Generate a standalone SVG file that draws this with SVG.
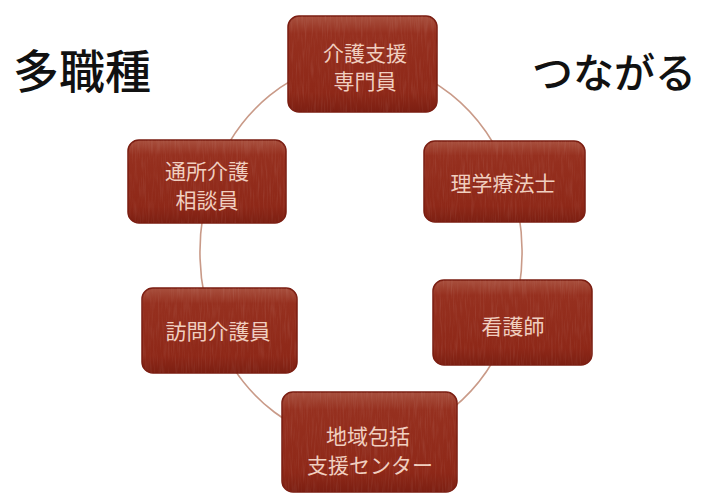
<svg xmlns="http://www.w3.org/2000/svg" width="704" height="494" viewBox="0 0 704 494">
<defs>
<style>
.box{fill:url(#boxGrad);stroke:#7a1c10;stroke-width:1.5}
.tex{fill:#ffffff;opacity:0.10;filter:url(#noise)}
.lbl{font-family:"Noto Sans CJK JP","Noto Sans CJK SC",sans-serif;font-size:21px;fill:#f0cfc0;text-anchor:middle;dominant-baseline:central}
.title{font-family:"Noto Sans CJK JP","Noto Sans CJK SC",sans-serif;fill:#111;text-anchor:middle;dominant-baseline:central;font-weight:500}
.conn{fill:none;stroke:#c99a88;stroke-width:1.6}
</style>
<linearGradient id="boxGrad" x1="0" y1="0" x2="0" y2="1">
<stop offset="0" stop-color="#a8503e"/>
<stop offset="0.18" stop-color="#96301f"/>
<stop offset="0.8" stop-color="#8e2818"/>
<stop offset="1" stop-color="#7c1f12"/>
</linearGradient>
<filter id="noise" x="0" y="0" width="1" height="1">
<feTurbulence type="fractalNoise" baseFrequency="0.6 0.05" numOctaves="2" seed="3" result="n"/>
<feColorMatrix in="n" type="matrix" values="0 0 0 0 1  0 0 0 0 1  0 0 0 0 1  0 0 0 1.6 -0.7" result="a"/>
<feComposite in="a" in2="SourceGraphic" operator="in"/>
</filter>
</defs>
<rect width="704" height="494" fill="#ffffff"/>
<text class="title" x="82" y="68" font-size="46">多職種</text>
<text class="title" x="614" y="70" font-size="41">つながる</text>
<g id="connectors">
<path class="conn" d="M361,62 A161,190 0 0 1 510.3,180.8"/>
<path class="conn" d="M510.3,180.8 A161,190 0 0 1 511.4,320.1"/>
<path class="conn" d="M511.4,320.1 A161,190 0 0 1 361,442"/>
<path class="conn" d="M361,442 A161,190 0 0 1 215.1,332.3"/>
<path class="conn" d="M215.1,332.3 A161,190 0 0 1 210.6,183.9"/>
<path class="conn" d="M210.6,183.9 A161,190 0 0 1 361,62"/>
</g>
<g id="node-kaigo-shien">
<rect class="box" x="288" y="16" width="149" height="96" rx="11"/>
<rect class="tex" x="288" y="16" width="149" height="96" rx="11"/>
<text class="lbl" x="365" y="52">介護支援</text>
<text class="lbl" x="365" y="80">専門員</text>
</g>
<g id="node-tsusho">
<rect class="box" x="128" y="140" width="158" height="83" rx="11"/>
<rect class="tex" x="128" y="140" width="158" height="83" rx="11"/>
<text class="lbl" x="207" y="170">通所介護</text>
<text class="lbl" x="207" y="199">相談員</text>
</g>
<g id="node-rigaku">
<rect class="box" x="424" y="141" width="161" height="81" rx="11"/>
<rect class="tex" x="424" y="141" width="161" height="81" rx="11"/>
<text class="lbl" x="503" y="182">理学療法士</text>
</g>
<g id="node-homon">
<rect class="box" x="142" y="288" width="155" height="85" rx="11"/>
<rect class="tex" x="142" y="288" width="155" height="85" rx="11"/>
<text class="lbl" x="218" y="330">訪問介護員</text>
</g>
<g id="node-kango">
<rect class="box" x="433" y="280" width="159" height="85" rx="11"/>
<rect class="tex" x="433" y="280" width="159" height="85" rx="11"/>
<text class="lbl" x="513" y="325">看護師</text>
</g>
<g id="node-chiiki">
<rect class="box" x="282" y="392" width="175" height="100" rx="11"/>
<rect class="tex" x="282" y="392" width="175" height="100" rx="11"/>
<text class="lbl" x="368" y="435">地域包括</text>
<text class="lbl" x="370" y="464">支援センター</text>
</g>
</svg>
